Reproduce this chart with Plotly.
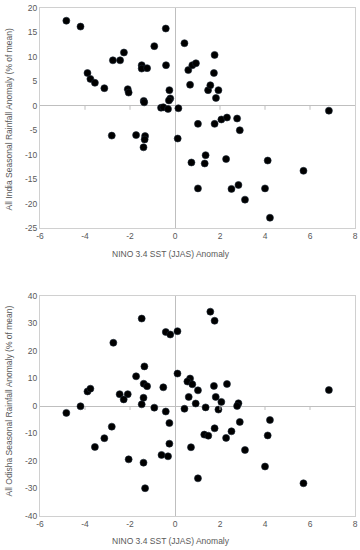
import plotly.graph_objects as go

# ---- data: All India (top panel) ----
x_india = [-4.83, -4.20, -3.89, -3.76, -3.56, -3.14, -2.76, -2.44, -2.27, -2.10,
           -2.06, -1.48, -1.48, -1.24, -1.39, -1.37, -0.92, -0.41, -0.40, -0.25,
           -0.21, -0.27, -0.62, -0.52, -0.31, 0.15, -2.81, -1.73, -1.33, -1.35,
           -1.40, 0.12, 0.42, 1.76, 0.59, 0.77, 0.93, 1.73, 0.67, 1.47,
           1.57, 1.93, 1.82, 6.84, 1.02, 1.76, 2.06, 2.31, 2.76, 2.88,
           1.36, 0.73, 1.32, 2.27, 4.12, 5.71, 1.02, 2.51, 2.82, 4.00,
           3.11, 4.22]
y_india = [17.4, 16.2, 6.7, 5.5, 4.7, 3.6, 9.3, 9.3, 10.9, 3.4,
           2.7, 8.3, 7.6, 7.7, 1.0, 0.7, 12.2, 15.8, 8.3, 3.2,
           1.5, 1.1, -0.4, -0.3, -0.65, -0.5, -6.1, -6.0, -6.2, -6.9,
           -8.5, -6.7, 12.8, 10.4, 7.3, 8.3, 8.7, 6.7, 4.3, 3.2,
           4.2, 3.2, 1.6, -1.0, -3.7, -3.7, -2.8, -2.4, -2.6, -5.0,
           -10.1, -11.6, -11.8, -10.9, -11.2, -13.3, -16.9, -17.0, -16.2, -16.9,
           -19.2, -22.9]

# ---- data: All Odisha (bottom panel) ----
x_odisha = [-1.48, -2.74, -0.41, -0.21, 0.11, -1.36, -1.73, 0.11, -1.39, -1.24,
            -0.52, -3.89, -3.76, -2.46, -2.10, -2.28, -1.40, -1.48, -4.20, -0.92,
            -4.83, -0.41, -0.25, -0.25, -0.60, -0.31, -2.81, -3.14, -3.56, -2.06,
            -1.40, -1.33, 1.57, 1.76, 0.67, 0.55, 0.77, 1.02, 1.73, 2.31,
            6.84, 0.61, 1.81, 2.06, 0.92, 2.82, 2.76, 0.42, 1.36, 1.93,
            4.22, 2.88, 1.76, 2.51, 1.30, 1.48, 2.27, 4.12, 0.71, 3.11,
            4.00, 1.02, 5.71]
y_odisha = [31.8, 23.0, 26.9, 26.0, 27.2, 14.4, 10.8, 11.8, 8.1, 7.2,
            6.8, 5.3, 6.3, 4.3, 4.3, 2.4, 3.0, 0.6, -0.1, -0.6,
            -2.5, -2.0, -6.2, -13.7, -17.8, -18.3, -7.5, -11.7, -14.9, -19.4,
            -20.6, -29.9, 34.3, 31.0, 10.0, 8.9, 7.9, 5.7, 7.3, 8.0,
            5.8, 3.3, 3.3, 1.5, 0.9, 1.0, 0.0, -1.0, -0.5, -1.3,
            -5.1, -5.8, -8.1, -9.2, -10.4, -10.8, -11.6, -10.7, -15.0, -16.0,
            -22.0, -26.3, -28.1]

x_ticks = [-6, -4, -2, 0, 2, 4, 6, 8]
y_ticks_top = [-25, -20, -15, -10, -5, 0, 5, 10, 15, 20]
y_ticks_bottom = [-40, -30, -20, -10, 0, 10, 20, 30, 40]
x_minor_marks = [-4, -2, 2, 4, 6]
x_title = "NINO 3.4 SST (JJAS) Anomaly"
y_title_top = "All India Seasonal Rainfall Anomaly (% of mean)"
y_title_bottom = "All Odisha Seasonal Rainfall Anomaly (% of mean)"

FONT = "Liberation Sans"
GREY = "#595959"
LINE = "#d0d0d0"
ZERO = "#bfbfbf"

marker = dict(color="#000000", size=7, line=dict(color="#1a2533", width=0.6))

fig = go.Figure()
fig.add_trace(go.Scatter(x=x_india, y=y_india, mode="markers", marker=marker,
                         xaxis="x", yaxis="y", showlegend=False, hoverinfo="skip"))
fig.add_trace(go.Scatter(x=x_odisha, y=y_odisha, mode="markers", marker=marker,
                         xaxis="x2", yaxis="y2", showlegend=False, hoverinfo="skip"))

W, H = 360, 550
ml, mr, mt, mb = 40, 5, 8, 34
ph = H - mt - mb
pw = W - ml - mr
top_dom = [1 - 220 / ph, 1]
bot_dom = [0, 220 / ph]

tf = dict(family=FONT, size=8.5, color=GREY)
xax = dict(range=[-6, 8], tickvals=x_ticks, ticktext=[str(v) for v in x_ticks],
           showgrid=False, zeroline=True,
           zerolinecolor=ZERO, zerolinewidth=1, showline=True, mirror=True,
           linecolor=LINE, linewidth=1, ticks="", automargin=False,
           tickfont=tf, fixedrange=True)
yax = dict(showgrid=False, zeroline=True, zerolinecolor=ZERO, zerolinewidth=1,
           showline=True, mirror=True, linecolor=LINE, linewidth=1, ticks="",
           automargin=False, tickfont=tf, fixedrange=True)
fig.update_layout(
    width=W, height=H,
    margin=dict(l=ml, r=mr, t=mt, b=mb),
    paper_bgcolor="white", plot_bgcolor="white",
    xaxis=dict(xax, domain=[0, 1], anchor="y"),
    yaxis=dict(yax, range=[-25, 20], tickvals=y_ticks_top,
               ticktext=[str(v) for v in y_ticks_top], domain=top_dom, anchor="x"),
    xaxis2=dict(xax, domain=[0, 1], anchor="y2"),
    yaxis2=dict(yax, range=[-40, 40], tickvals=y_ticks_bottom,
                ticktext=[str(v) for v in y_ticks_bottom], domain=bot_dom, anchor="x2"),
)

# small tick marks on the zero line (Excel style)
shapes = []
for xr, yr in (("x", "y"), ("x2", "y2")):
    for t in x_minor_marks:
        shapes.append(dict(type="line", xref=xr, yref=yr, x0=t, x1=t,
                           ysizemode="pixel", yanchor=0, y0=0, y1=-4,
                           line=dict(color=ZERO, width=1)))
fig.update_layout(shapes=shapes)

def px_to_paper_x(px):
    return (px - ml) / pw

def px_to_paper_y(py):
    return (H - mb - py) / ph

ann_font = dict(family=FONT, size=8.5, color=GREY)
common = dict(xref="paper", yref="paper", showarrow=False, font=ann_font,
              xanchor="center", yanchor="middle")
fig.add_annotation(text=x_title, x=px_to_paper_x(171), y=px_to_paper_y(254), **common)
fig.add_annotation(text=x_title, x=px_to_paper_x(171), y=px_to_paper_y(541), **common)
fig.add_annotation(text=y_title_top, x=px_to_paper_x(8), y=px_to_paper_y(119.5),
                   textangle=-90, **common)
fig.add_annotation(text=y_title_bottom, x=px_to_paper_x(8), y=px_to_paper_y(401.5),
                   textangle=-90, **common)

fig.write_html("out.html", config={"displayModeBar": False, "staticPlot": True},
               post_script="document.body.style.margin='0';document.body.style.padding='0';")
